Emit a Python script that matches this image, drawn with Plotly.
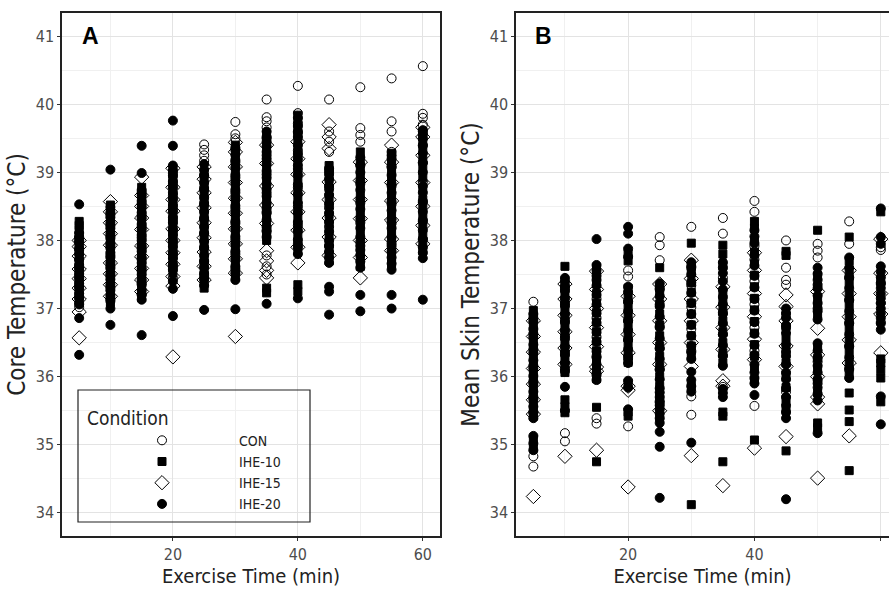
import plotly.graph_objects as go

TIMES = [5, 10, 15, 20, 25, 30, 35, 40, 45, 50, 55, 60]
CONDITIONS = ["CON", "IHE-10", "IHE-15", "IHE-20"]
Y_TICKS = [34, 35, 36, 37, 38, 39, 40, 41]
X_TICKS = [20, 40, 60]

# Core temperature (°C), one list per time point (5 ... 60 min)
CORE_CON = [
    [37.02, 37.08, 37.18, 37.33, 37.47, 37.61, 37.72, 37.86, 37.97, 38.04],
    [37.14, 37.31, 37.48, 37.62, 37.78, 37.93, 38.06, 38.22, 38.38],
    [37.21, 37.37, 37.55, 37.72, 37.88, 38.04, 38.2, 38.37, 38.54, 38.7],
    [37.44, 37.61, 37.79, 37.96, 38.13, 38.3, 38.48, 38.66, 38.83, 38.98],
    [37.48, 37.69, 37.9, 38.11, 38.33, 38.55, 38.77, 38.96, 39.17, 39.25, 39.33, 39.41],
    [37.58, 37.8, 38.02, 38.25, 38.47, 38.7, 38.92, 39.15, 39.36, 39.5, 39.56, 39.74],
    [37.5, 37.62, 37.78, 38.15, 38.42, 38.7, 38.97, 39.25, 39.5, 39.66, 39.75, 39.81, 40.07],
    [37.95, 38.22, 38.5, 38.78, 39.05, 39.32, 39.58, 39.72, 39.8, 39.87, 40.27],
    [37.92, 38.2, 38.48, 38.76, 39.02, 39.3, 39.45, 39.6, 40.07],
    [37.98, 38.26, 38.55, 38.83, 39.1, 39.45, 39.55, 39.65, 40.25],
    [37.96, 38.25, 38.53, 38.8, 39.08, 39.3, 39.6, 39.75, 40.38],
    [38.02, 38.3, 38.58, 38.86, 39.14, 39.4, 39.6, 39.7, 39.8, 39.86, 40.56],
]
CORE_IHE10 = [
    [37.12, 37.19, 37.27, 37.35, 37.41, 37.49, 37.55, 37.62, 37.68, 37.77, 37.83, 37.9, 37.94, 38.02, 38.07, 38.16, 38.22, 38.28],
    [37.09, 37.16, 37.22, 37.3, 37.38, 37.46, 37.54, 37.63, 37.71, 37.79, 37.86, 37.93, 38.0, 38.07, 38.14, 38.22, 38.29, 38.37, 38.45, 38.52],
    [37.16, 37.23, 37.3, 37.38, 37.46, 37.55, 37.63, 37.71, 37.8, 37.88, 37.96, 38.04, 38.12, 38.2, 38.28, 38.37, 38.45, 38.53, 38.62, 38.7, 38.78],
    [37.52, 37.6, 37.69, 37.78, 37.86, 37.95, 38.04, 38.12, 38.21, 38.3, 38.38, 38.47, 38.56, 38.64, 38.73, 38.82, 38.9, 38.97, 39.04],
    [37.3, 37.38, 37.46, 37.55, 37.64, 37.74, 37.84, 37.94, 38.04, 38.15, 38.26, 38.37, 38.48, 38.59, 38.7, 38.8, 38.9, 39.0],
    [37.46, 37.56, 37.67, 37.78, 37.88, 37.99, 38.1, 38.21, 38.32, 38.44, 38.55, 38.66, 38.78, 38.89, 39.0, 39.11, 39.22, 39.31, 39.4],
    [37.23, 37.3, 38.0, 38.06, 38.12, 38.24, 38.36, 38.48, 38.6, 38.72, 38.85, 38.97, 39.1, 39.22, 39.34, 39.45, 39.56],
    [37.25, 37.35, 37.85, 37.96, 38.08, 38.2, 38.33, 38.46, 38.6, 38.74, 38.88, 39.01, 39.15, 39.28, 39.4, 39.52, 39.64, 39.76, 39.84],
    [37.7, 37.79, 37.88, 38.0, 38.12, 38.25, 38.38, 38.51, 38.64, 38.77, 38.9, 39.0, 39.1],
    [37.62, 37.73, 37.85, 37.97, 38.1, 38.24, 38.38, 38.52, 38.66, 38.8, 38.93, 39.06, 39.18, 39.3],
    [37.65, 37.75, 37.86, 37.98, 38.1, 38.23, 38.36, 38.49, 38.62, 38.75, 38.88, 39.0, 39.12, 39.2, 39.28],
    [37.85, 37.96, 38.08, 38.21, 38.34, 38.47, 38.6, 38.76, 38.92, 39.05, 39.18, 39.31, 39.44, 39.52, 39.6],
]
CORE_IHE15 = [
    [36.57, 36.95, 37.14, 37.3, 37.44, 37.58, 37.77, 37.91, 38.0],
    [37.18, 37.35, 37.51, 37.67, 37.93, 38.1, 38.26, 38.42, 38.57],
    [37.25, 37.42, 37.59, 37.76, 37.92, 38.16, 38.33, 38.5, 38.66, 38.93],
    [36.29, 37.33, 37.47, 37.65, 37.82, 38.0, 38.17, 38.43, 38.6, 38.78, 39.06],
    [37.42, 37.62, 37.83, 38.04, 38.26, 38.48, 38.7, 38.9, 39.08],
    [36.59, 37.52, 37.73, 37.95, 38.17, 38.4, 38.62, 38.85, 39.08, 39.3, 39.44],
    [37.45, 37.56, 37.7, 37.85, 38.25, 38.52, 38.8, 39.13, 39.4],
    [37.67, 37.9, 38.15, 38.42, 38.7, 38.97, 39.2, 39.45],
    [37.78, 38.05, 38.33, 38.6, 38.86, 39.35, 39.52, 39.7],
    [37.45, 37.75, 38.0, 38.32, 38.6, 38.88, 39.15],
    [37.85, 38.02, 38.3, 38.58, 38.85, 39.15, 39.4],
    [37.95, 38.22, 38.5, 38.85, 39.25, 39.52, 39.66],
]
CORE_IHE20 = [
    [36.32, 36.86, 37.06, 37.15, 37.22, 37.3, 37.37, 37.44, 37.51, 37.58, 37.64, 37.72, 37.8, 37.88, 37.99, 38.05, 38.11, 38.53],
    [36.76, 37.0, 37.11, 37.19, 37.27, 37.35, 37.43, 37.51, 37.59, 37.67, 37.75, 37.82, 37.89, 37.96, 38.03, 38.1, 38.18, 38.26, 38.34, 38.41, 38.49, 39.04],
    [36.61, 37.13, 37.2, 37.27, 37.35, 37.42, 37.5, 37.59, 37.67, 37.75, 37.84, 37.92, 38.0, 38.08, 38.16, 38.24, 38.33, 38.41, 38.49, 38.58, 38.66, 38.74, 38.99, 39.39],
    [36.89, 37.29, 37.4, 37.57, 37.65, 37.74, 37.82, 37.91, 38.0, 38.08, 38.17, 38.26, 38.34, 38.43, 38.52, 38.61, 38.7, 38.78, 38.87, 38.95, 39.03, 39.1, 39.39, 39.76],
    [36.98, 37.34, 37.43, 37.52, 37.61, 37.7, 37.78, 37.89, 37.99, 38.1, 38.2, 38.31, 38.42, 38.52, 38.63, 38.74, 38.85, 38.95, 39.04, 39.12],
    [36.99, 37.42, 37.52, 37.62, 37.73, 37.84, 37.95, 38.06, 38.17, 38.28, 38.4, 38.51, 38.62, 38.74, 38.85, 38.96, 39.07, 39.18, 39.26, 39.33],
    [37.07, 38.05, 38.13, 38.2, 38.3, 38.4, 38.47, 38.55, 38.65, 38.75, 38.83, 38.92, 39.02, 39.12, 39.2, 39.3, 39.38, 39.45, 39.52, 39.6],
    [37.15, 37.8, 37.9, 38.01, 38.14, 38.27, 38.41, 38.55, 38.68, 38.82, 38.96, 39.1, 39.2, 39.27, 39.4, 39.52, 39.6, 39.68],
    [36.91, 37.25, 37.32, 37.67, 37.75, 37.83, 37.92, 38.0, 38.13, 38.27, 38.4, 38.54, 38.67, 38.8, 38.9, 38.98, 39.06],
    [36.96, 37.2, 37.6, 37.69, 37.78, 37.86, 37.92, 38.05, 38.18, 38.32, 38.46, 38.6, 38.74, 38.87, 39.0, 39.11, 39.22],
    [37.0, 37.2, 37.57, 37.66, 37.75, 37.84, 37.92, 38.05, 38.18, 38.31, 38.44, 38.57, 38.7, 38.83, 38.96, 39.08, 39.2, 39.25],
    [37.13, 37.74, 37.82, 37.9, 38.02, 38.15, 38.28, 38.42, 38.56, 38.7, 38.8, 39.0, 39.14, 39.28, 39.39, 39.5, 39.56, 39.62],
]

# Mean skin temperature (°C), one list per time point (5 ... 60 min)
SKIN_CON = [
    [34.68, 34.83, 35.48, 35.7, 35.93, 36.16, 36.4, 36.63, 36.86, 37.1],
    [35.05, 35.17, 36.12, 36.36, 36.6, 36.84, 37.08, 37.3],
    [35.31, 35.39, 36.02, 36.3, 36.58, 36.86, 37.14, 37.42],
    [35.27, 36.26, 36.54, 36.82, 37.1, 37.47, 37.56],
    [35.62, 36.1, 36.42, 36.74, 37.06, 37.3, 37.71, 37.93, 38.05],
    [35.44, 35.71, 36.38, 36.7, 37.02, 37.34, 37.62, 38.2],
    [35.85, 36.3, 36.62, 36.94, 37.45, 38.1, 38.33],
    [35.57, 36.38, 36.72, 37.06, 37.4, 37.72, 37.92, 38.42, 38.58],
    [35.78, 36.36, 36.72, 37.35, 37.42, 37.6, 38.0],
    [35.9, 36.22, 37.0, 37.35, 37.75, 37.85, 37.95],
    [36.1, 36.44, 36.78, 37.12, 37.46, 37.95, 38.28],
    [36.8, 37.08, 37.36, 37.86, 37.9],
]
SKIN_IHE10 = [
    [34.95, 35.08, 35.42, 35.52, 35.62, 35.73, 35.85, 35.96, 36.08, 36.2, 36.32, 36.44, 36.55, 36.67, 36.78, 36.88, 36.97],
    [35.47, 35.56, 35.66, 36.06, 36.17, 36.28, 36.4, 36.52, 36.64, 36.76, 36.88, 37.0, 37.11, 37.22, 37.33, 37.62],
    [34.75, 35.55, 35.97, 36.1, 36.24, 36.38, 36.52, 36.66, 36.8, 36.94, 37.08, 37.22, 37.36, 37.48, 37.6],
    [35.42, 35.48, 35.9, 36.21, 36.34, 36.48, 36.62, 36.76, 36.9, 37.04, 37.17, 37.3, 37.7, 37.8],
    [35.4, 35.56, 35.72, 35.86, 36.0, 36.15, 36.3, 36.45, 36.6, 36.76, 36.92, 37.07, 37.22, 37.32, 37.6],
    [34.12, 35.86, 36.3, 36.45, 36.6, 36.76, 36.92, 37.08, 37.24, 37.38, 37.52, 37.62, 37.96],
    [34.75, 35.42, 35.48, 36.2, 36.35, 36.5, 36.66, 36.82, 36.96, 37.1, 37.24, 37.62, 37.8, 37.93],
    [35.07, 35.95, 36.12, 36.3, 36.47, 36.64, 36.81, 36.98, 37.15, 37.32, 37.49, 37.66, 37.83, 38.0, 38.18, 38.28],
    [34.91, 35.5, 35.67, 35.84, 36.02, 36.2, 36.38, 36.56, 36.73, 36.9, 37.78, 37.84],
    [35.25, 35.32, 35.76, 35.94, 36.12, 36.27, 36.42, 36.92, 37.04, 37.16, 37.32, 37.48, 38.15],
    [34.62, 35.34, 35.51, 35.76, 36.02, 36.19, 36.36, 36.53, 36.7, 36.87, 37.04, 37.21, 37.38, 37.54, 37.7, 38.05],
    [35.63, 35.98, 36.1, 36.2, 36.26, 37.4, 38.42],
]
SKIN_IHE15 = [
    [34.24, 35.45, 35.66, 35.89, 36.12, 36.36, 36.59, 36.82],
    [34.83, 36.18, 36.42, 36.66, 36.9, 37.14, 37.36],
    [34.92, 36.08, 36.14, 36.44, 36.72, 37.0, 37.28, 37.55],
    [34.38, 35.8, 35.86, 36.35, 36.62, 36.9, 37.18],
    [35.5, 36.18, 36.5, 36.82, 37.14, 37.36],
    [34.84, 36.15, 36.5, 36.82, 37.14, 37.44, 37.71],
    [34.4, 35.86, 35.94, 36.4, 36.72, 37.02, 37.32],
    [34.95, 36.25, 36.55, 36.88, 37.22, 37.56, 37.82],
    [35.12, 36.15, 36.45, 36.82, 37.03, 37.2],
    [34.51, 35.6, 35.7, 36.0, 36.32, 36.71, 37.25],
    [35.13, 36.2, 36.54, 36.88, 37.22, 37.56],
    [36.35, 36.92, 37.22, 37.52, 38.02],
]
SKIN_IHE20 = [
    [34.92, 35.02, 35.13, 35.39, 35.47, 35.56, 35.67, 35.78, 35.9, 36.01, 36.12, 36.24, 36.35, 36.47, 36.58, 36.7, 36.81, 36.92],
    [35.5, 35.85, 36.08, 36.2, 36.32, 36.44, 36.56, 36.68, 36.8, 36.92, 37.04, 37.15, 37.26, 37.33, 37.4, 37.45],
    [35.95, 36.05, 36.18, 36.28, 36.37, 36.51, 36.65, 36.79, 36.93, 37.06, 37.2, 37.34, 37.48, 37.56, 37.64, 38.02],
    [35.52, 35.84, 35.94, 36.2, 36.3, 36.4, 36.54, 36.68, 36.82, 36.96, 37.1, 37.24, 37.32, 37.76, 37.88, 38.1, 38.2],
    [34.22, 34.97, 35.19, 35.32, 35.39, 35.46, 35.52, 35.58, 35.64, 35.7, 35.77, 35.83, 35.96, 36.11, 36.26, 36.41, 36.56, 36.72, 36.88, 37.03, 37.18, 37.28, 37.37],
    [35.03, 35.78, 35.86, 35.95, 36.07, 36.26, 36.36, 36.45, 36.6, 36.76, 36.92, 37.08, 37.23, 37.38, 37.5, 37.6, 37.68],
    [35.7, 35.76, 35.82, 36.16, 36.31, 36.46, 36.62, 36.78, 36.92, 37.06, 37.17, 37.28, 37.4, 37.52, 37.6, 37.68],
    [35.73, 35.9, 35.98, 36.06, 36.18, 36.32, 36.46, 36.63, 36.8, 36.97, 37.14, 37.31, 37.48, 37.63, 37.78, 37.96, 38.06, 38.15],
    [34.2, 35.39, 35.48, 35.58, 35.7, 35.83, 35.96, 36.06, 36.18, 36.3, 36.47, 36.64, 36.75, 36.86, 36.93, 37.0],
    [35.17, 35.65, 35.75, 35.84, 35.95, 36.06, 36.16, 36.27, 36.38, 36.49, 36.84, 36.96, 37.08, 37.19, 37.3, 37.42, 37.51, 37.6],
    [35.98, 36.12, 36.28, 36.45, 36.62, 36.79, 36.96, 37.13, 37.3, 37.45, 37.6, 37.75],
    [35.3, 35.71, 36.69, 36.78, 36.86, 36.93, 37.0, 37.08, 37.15, 37.22, 37.3, 37.38, 37.46, 37.54, 37.62, 37.95, 38.05, 38.47],
]

CORE = [CORE_CON, CORE_IHE10, CORE_IHE15, CORE_IHE20]
SKIN = [SKIN_CON, SKIN_IHE10, SKIN_IHE15, SKIN_IHE20]

STYLES = [
    dict(symbol="circle-open", size=9),
    dict(symbol="square", size=8),
    dict(symbol="diamond-open", size=11),
    dict(symbol="circle", size=9),
]

FONT = "DejaVu Sans Condensed, Liberation Sans, Arial, sans-serif"
BOLD_FONT = "Liberation Sans, Arial, sans-serif"


def flatten(groups):
    xs, ys = [], []
    for t, vals in zip(TIMES, groups):
        for v in vals:
            xs.append(t)
            ys.append(v)
    return xs, ys


fig = go.Figure()
for name, core, skin, st in zip(CONDITIONS, CORE, SKIN, STYLES):
    x, y = flatten(core)
    fig.add_trace(go.Scatter(
        x=x, y=y, mode="markers", name=name, legendgroup=name,
        marker=dict(color="black", line=dict(color="black", width=1), **st),
        xaxis="x", yaxis="y"))
    x, y = flatten(skin)
    fig.add_trace(go.Scatter(
        x=x, y=y, mode="markers", name=name, legendgroup=name, showlegend=False,
        marker=dict(color="black", line=dict(color="black", width=1), **st),
        xaxis="x2", yaxis="y2"))

W, H = 889, 598
ydom = [1 - 536 / H, 1 - 13 / H]

axis_common = dict(
    showline=True, linecolor="#222222", linewidth=1.5,
    ticks="outside", ticklen=3, tickcolor="#333333", tickwidth=1,
    showgrid=True, gridcolor="#e3e3e3", gridwidth=1, zeroline=False,
    tickfont=dict(family=FONT, size=16, color="#4d4d4d"),
    automargin=False,
)
xcommon = dict(axis_common, range=[2.25, 62.75], tickvals=X_TICKS,
               minor=dict(showgrid=True, gridcolor="#f0f0f0", dtick=10, tick0=0),
               title=dict(text="Exercise Time (min)", standoff=5,
                          font=dict(family=FONT, size=20, color="#222222")))
ycommon = dict(axis_common, range=[33.66, 41.34], tickvals=Y_TICKS,
               minor=dict(showgrid=True, gridcolor="#f0f0f0", dtick=0.5, tick0=0))

fig.update_layout(
    width=W, height=H,
    margin=dict(l=0, r=0, t=0, b=0),
    paper_bgcolor="white", plot_bgcolor="white",
    font=dict(family=FONT, color="#222222"),
    xaxis=dict(xcommon, domain=[62 / W, 440 / W], anchor="y", mirror=True),
    yaxis=dict(ycommon, domain=ydom, anchor="x", mirror=True,
               title=dict(text="Core Temperature (°C)", standoff=3,
                          font=dict(family=FONT, size=24, color="#222222"))),
    xaxis2=dict(xcommon, domain=[516 / W, 1.0], anchor="y2", mirror=True,
                range=[2.25, 61.3]),
    yaxis2=dict(ycommon, domain=ydom, anchor="x2", mirror=False,
                title=dict(text="Mean Skin Temperature (°C)", standoff=3,
                           font=dict(family=FONT, size=24, color="#222222"))),
    showlegend=True,
    legend=dict(
        x=85 / W, y=1 - 400 / H, xanchor="left", yanchor="top",
        bgcolor="rgba(0,0,0,0)", borderwidth=0,
        title=dict(text="Condition", font=dict(family=FONT, size=19, color="#222222")),
        font=dict(family=FONT, size=14, color="#222222"),
        itemwidth=144, tracegroupgap=0,
    ),
    shapes=[
        dict(type="rect", xref="paper", yref="paper",
             x0=78 / W, x1=310 / W, y0=1 - 522 / H, y1=1 - 390 / H,
             line=dict(color="#222222", width=1.2), fillcolor="rgba(0,0,0,0)",
             layer="above"),
    ],
    annotations=[
        dict(text="<b>A</b>", xref="paper", yref="paper", x=90 / W, y=1 - 36 / H,
             xanchor="center", yanchor="middle", showarrow=False,
             font=dict(family=BOLD_FONT, size=23, color="black")),
        dict(text="<b>B</b>", xref="paper", yref="paper", x=543 / W, y=1 - 36 / H,
             xanchor="center", yanchor="middle", showarrow=False,
             font=dict(family=BOLD_FONT, size=23, color="black")),
    ],
)

fig.write_html("out.html")
